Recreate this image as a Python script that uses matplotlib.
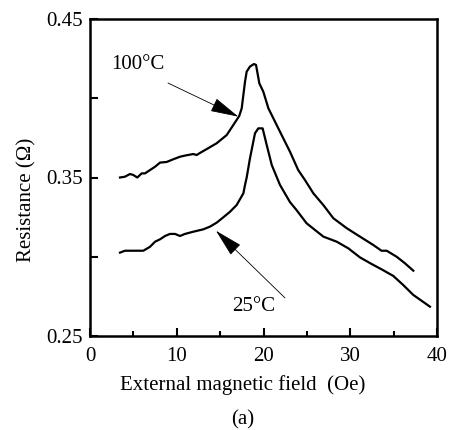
import matplotlib
matplotlib.use("Agg")
import matplotlib.pyplot as plt
from matplotlib.ticker import FuncFormatter

plt.rcParams['font.family'] = ['Liberation Serif', 'DejaVu Serif']

# 100 °C curve
h100 = [3.46, 4.03, 4.61, 4.99, 5.45, 5.96, 6.34, 6.92, 7.5, 8.07, 8.84, 9.6, 10.37, 11.1, 11.9,
        12.3, 12.68, 13.6, 14.6, 15.76, 16.52, 17.2, 17.49, 17.87, 18.06, 18.44, 18.9, 19.14, 19.52,
        19.98, 20.56, 21.52, 22.3, 23.05, 24.0, 24.78, 25.75, 26.9, 28.05, 29.6, 31.12, 32.66, 33.6,
        34.2, 35.35, 36.3, 37.27]
r100 = [0.350, 0.3505, 0.3522, 0.3516, 0.350, 0.3526, 0.3526, 0.3547, 0.3568, 0.3594, 0.3598,
        0.3615, 0.3631, 0.364, 0.3648, 0.3642, 0.3655, 0.3684, 0.3716, 0.3768, 0.3831, 0.3888,
        0.3937, 0.4105, 0.4168, 0.420, 0.4216, 0.421, 0.4094, 0.4041, 0.3937, 0.3831, 0.3745,
        0.3663, 0.3547, 0.3484, 0.34, 0.3326, 0.3243, 0.318, 0.3127, 0.3074, 0.3038, 0.3038,
        0.30, 0.2959, 0.2912]

# 25 °C curve
h25 = [3.46, 4.03, 6.15, 6.92, 7.5, 8.07, 8.65, 9.22, 9.8, 10.37, 10.95, 11.91, 13.06, 13.83,
       14.6, 15.37, 16.14, 16.9, 17.68, 17.87, 18.06, 18.25, 18.44, 19.02, 19.4, 19.9, 20.37,
       20.95, 21.9, 23.05, 23.8, 24.97, 26.9, 28.44, 29.78, 31.12, 32.47, 33.6, 34.96, 36.1,
       37.27, 39.19]
r25 = [0.3026, 0.3038, 0.3038, 0.3063, 0.3095, 0.311, 0.3131, 0.3144, 0.3144, 0.3131, 0.3144,
       0.3158, 0.3173, 0.319, 0.3215, 0.3249, 0.3284, 0.3326, 0.340, 0.3453, 0.350, 0.356,
       0.3621, 0.3779, 0.381, 0.381, 0.3705, 0.3579, 0.3453, 0.3345, 0.3295, 0.3211, 0.3127,
       0.3095, 0.3053, 0.2996, 0.2954, 0.2921, 0.2879, 0.2822, 0.2759, 0.2685]

x_ticks = [0, 10, 20, 30, 40]
x_minor = [5, 15, 25, 35]
y_ticks = [0.25, 0.30, 0.35, 0.40, 0.45]
y_labeled = ["0.25", "0.35", "0.45"]

fig = plt.figure(figsize=(4.49, 4.30), dpi=100)
ax = fig.add_axes([90/449, 94/430, 347/449, 317/430])

ax.plot(h100, r100, color='black', lw=1.6, solid_joinstyle='round')
ax.plot(h25, r25, color='black', lw=1.6, solid_joinstyle='round')

ax.set_xlim(0, 40)
ax.set_ylim(0.25, 0.45)
ax.set_xticks(x_ticks)
ax.set_xticks(x_minor, minor=True)
ax.set_yticks(y_ticks)
ax.yaxis.set_major_formatter(FuncFormatter(lambda v, p: f"{v:.2f}" if f"{v:.2f}" in y_labeled else ""))
ax.tick_params(axis='both', which='major', direction='in', length=6, width=1.5, labelsize=15)
ax.tick_params(axis='x', which='major', pad=8)
ax.tick_params(axis='y', which='major', pad=5)
ax.tick_params(axis='x', which='minor', direction='in', length=3.5, width=1.5)
for s in ax.spines.values():
    s.set_linewidth(1.8)

ax.set_xlabel('External magnetic field  (Oe)', fontsize=15)
ax.xaxis.set_label_coords(0.441, -0.155)
ax.xaxis.label.set_va('center')
ax.set_ylabel('Resistance (Ω)', fontsize=15)
ax.yaxis.set_label_coords(-0.182, 0.429)
ax.yaxis.label.set_va('center')

arrowprops = dict(arrowstyle='-|>,head_length=1.8,head_width=0.45', color='black', lw=0.6,
                  shrinkA=0, shrinkB=0, mutation_scale=10)
ax.annotate('', xy=(17.1, 0.3884), xytext=(8.99, 0.4096), arrowprops=arrowprops)
ax.annotate('', xy=(14.52, 0.3164), xytext=(22.48, 0.274), arrowprops=arrowprops)
ax.text(5.53, 0.421, '100°C', fontsize=15, ha='center', va='center')
ax.text(18.9, 0.2683, '25°C', fontsize=15, ha='center', va='center')

fig.text(243/449, 1 - 420/430, '(a)', fontsize=15, ha='center', va='center')

fig.savefig('out.png', dpi=100)
